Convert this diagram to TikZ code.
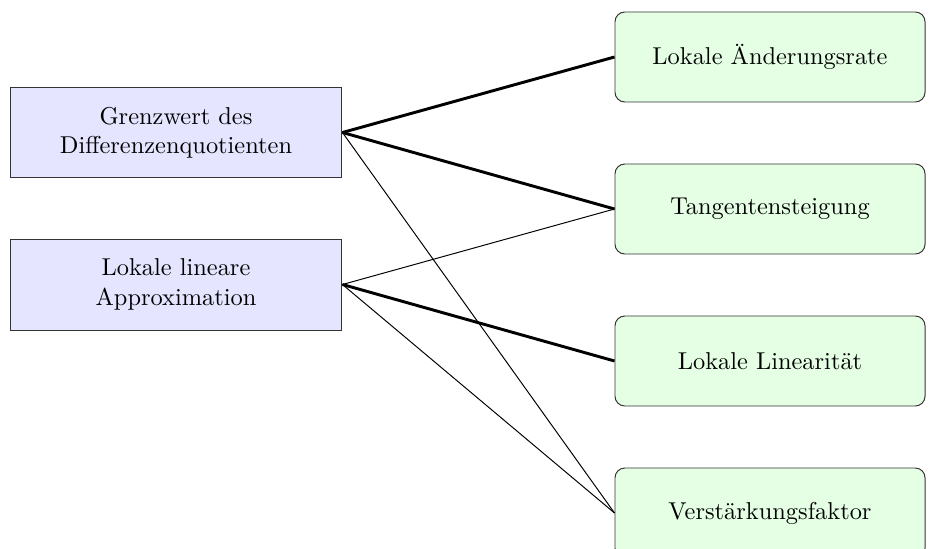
\documentclass[tikz,border=0pt]{standalone}
\usepackage{fontspec}
\begin{document}
\begin{tikzpicture}[x=0.41pt,y=-0.41pt,
  leftbox/.style={draw=black!80, fill=blue!10, minimum width=136.1pt, minimum height=37.3pt, align=center, inner sep=2pt},
  rightbox/.style={draw=black!80, fill=green!10, rounded corners=4pt, minimum width=127.1pt, minimum height=36.9pt, align=center, inner sep=2pt},
  strong/.style={line width=1.2pt},
  weak/.style={line width=0.4pt}]
\useasboundingbox (0,0) rectangle (935,549);
\node[leftbox] (g) at (176,132.5) {Grenzwert des\\Differenzenquotienten};
\node[leftbox] (l) at (176,284.5) {Lokale lineare\\Approximation};
\node[rightbox] (r1) at (770,57) {Lokale Änderungsrate};
\node[rightbox] (r2) at (770,209) {Tangentensteigung};
\node[rightbox] (r3) at (770,361) {Lokale Linearität};
\node[rightbox] (r4) at (770,513) {Verstärkungsfaktor};
\draw[strong] (g.east) -- (r1.west);
\draw[strong] (g.east) -- (r2.west);
\draw[weak] (g.east) -- (r4.west);
\draw[weak] (l.east) -- (r2.west);
\draw[strong] (l.east) -- (r3.west);
\draw[weak] (l.east) -- (r4.west);
\end{tikzpicture}
\end{document}
